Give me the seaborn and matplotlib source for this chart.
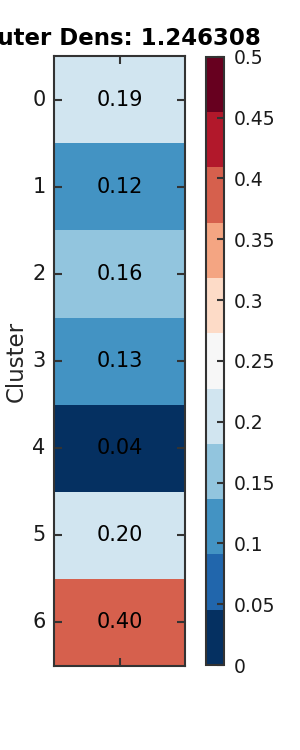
import numpy as np
import pandas as pd
import matplotlib
matplotlib.use("Agg")
import matplotlib.pyplot as plt
import seaborn as sns

# data
clusters = [0, 1, 2, 3, 4, 5, 6]
density = [0.19, 0.12, 0.16, 0.13, 0.04, 0.20, 0.40]
title = "Outer Dens: 1.246308"
cbar_ticks = [0, 0.05, 0.1, 0.15, 0.2, 0.25, 0.3, 0.35, 0.4, 0.45, 0.5]

sns.set_style("ticks")
plt.rcParams.update({
    "xtick.direction": "in",
    "ytick.direction": "in",
    "axes.linewidth": 1.5,
    "axes.axisbelow": False,
    "text.color": ".1",
    "xtick.color": ".2",
    "ytick.color": ".2",
    "xtick.labelcolor": ".1",
    "ytick.labelcolor": ".1",
})

df = pd.DataFrame({"density": density}, index=clusters)

fig = plt.figure(figsize=(3, 7.5), dpi=100)
ax = fig.add_axes([0.18, 0.112, 0.437, 0.813])
cax = fig.add_axes([0.687, 0.1133, 0.06, 0.811])

cmap = matplotlib.colormaps["RdBu_r"].resampled(11)
sns.heatmap(df, ax=ax, cbar_ax=cax, cmap=cmap, vmin=0, vmax=0.5,
            annot=True, fmt=".2f", annot_kws={"size": 15, "color": "black"},
            xticklabels=[""], yticklabels=clusters, linewidths=0)
ax.set_axisbelow(False)
cax.set_axisbelow(False)

for s in ax.spines.values():
    s.set_visible(True)
    s.set_linewidth(1.5)
    s.set_color(".2")

ax.tick_params(axis="both", which="major", length=6, width=1.5, color=".2",
               labelsize=15, left=True, right=True, top=True, bottom=True)
ax.tick_params(axis="y", pad=6)
ax.set_yticklabels([str(c) for c in clusters], rotation=0)
ax.set_ylabel("Cluster", fontsize=16.5, labelpad=3)
ax.set_xlabel("")
ax.set_title(title, fontsize=16.5, fontweight="bold", color="black", pad=8)

cb = ax.collections[0].colorbar
cb.set_ticks(cbar_ticks)
cb.set_ticklabels([f"{t:g}" for t in cbar_ticks])
cb.outline.set_visible(True)
cb.outline.set_linewidth(1.5)
cb.outline.set_edgecolor(".2")
cax.tick_params(labelsize=13.5, length=5, width=1.5, direction="in", color=".2", pad=7)

fig.savefig("out.png", dpi=100)
